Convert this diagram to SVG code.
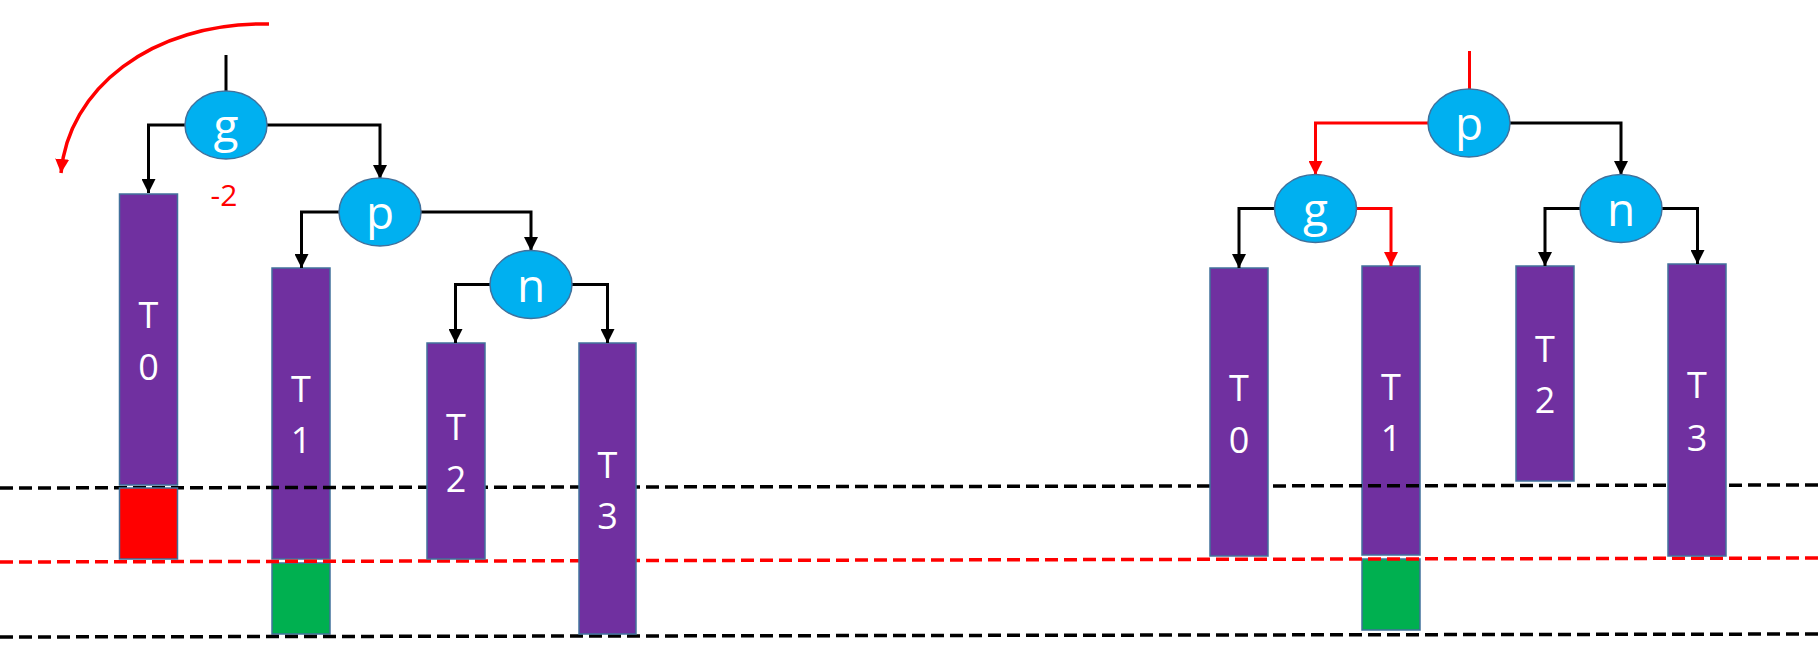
<svg xmlns="http://www.w3.org/2000/svg" width="1818" height="672" viewBox="0 0 1818 672">
<style>
.bg{fill:#ffffff}
.sub{fill:#7030A0;stroke:#41719C;stroke-width:1.5}
.red{fill:#FF0000;stroke:#41719C;stroke-width:1.5}
.grn{fill:#00B050;stroke:#41719C;stroke-width:1.5}
.node{fill:#00B0F0;stroke:#41719C;stroke-width:1.5}
.nl{font-family:"Open Sans","Liberation Sans",sans-serif;font-size:46px;fill:#ffffff;text-anchor:middle}
.tl{font-family:"Open Sans","Liberation Sans",sans-serif;font-size:36px;fill:#ffffff;text-anchor:middle}
.c{fill:none;stroke:#000000;stroke-width:3}
.cr{fill:none;stroke:#FF0000;stroke-width:3}
.arc{fill:none;stroke:#FF0000;stroke-width:3.5}
.dk{fill:none;stroke:#000000;stroke-width:3.5;stroke-dasharray:13 6}
.dr{fill:none;stroke:#FF0000;stroke-width:3.5;stroke-dasharray:13 6}
</style>
<defs>
<marker id="ab" markerUnits="userSpaceOnUse" markerWidth="14" markerHeight="14" viewBox="0 0 14 14" refX="14" refY="7" orient="auto">
<path d="M0,0 L14,7 L0,14 Z" fill="#000000"/>
</marker>
<marker id="ar" markerUnits="userSpaceOnUse" markerWidth="14" markerHeight="14" viewBox="0 0 14 14" refX="14" refY="7" orient="auto">
<path d="M0,0 L14,7 L0,14 Z" fill="#FF0000"/>
</marker>
</defs>
<rect class="bg" x="0" y="0" width="1818" height="672"/>

<g id="left-T1">
<rect class="sub" x="272" y="268" width="58" height="291"/>
<rect class="grn" x="272" y="563" width="58" height="71"/>
<text class="tl" x="301" y="402">T</text>
<text class="tl" x="301" y="453">1</text>
</g>
<g id="right-T1">
<rect class="sub" x="1362" y="266" width="58" height="289"/>
<rect class="grn" x="1362" y="559" width="58" height="71"/>
<text class="tl" x="1391" y="400">T</text>
<text class="tl" x="1391" y="451">1</text>
</g>

<g id="levels">
<line class="dk" x1="0" y1="488" x2="1818" y2="485"/>
<line class="dr" x1="0" y1="562" x2="1818" y2="558"/>
<line class="dk" x1="0" y1="637" x2="1818" y2="634"/>
</g>

<g id="left-T0">
<rect class="sub" x="119.5" y="194" width="58" height="291"/>
<rect class="red" x="119.5" y="488" width="58" height="71"/>
<text class="tl" x="148.5" y="328">T</text>
<text class="tl" x="148.5" y="380">0</text>
</g>
<g id="left-T2">
<rect class="sub" x="427" y="343" width="58" height="216"/>
<text class="tl" x="456" y="440">T</text>
<text class="tl" x="456" y="492">2</text>
</g>
<g id="left-T3">
<rect class="sub" x="579" y="343" width="57" height="291"/>
<text class="tl" x="607.5" y="478">T</text>
<text class="tl" x="607.5" y="529">3</text>
</g>

<g id="right-T0">
<rect class="sub" x="1210" y="268" width="58" height="288"/>
<text class="tl" x="1239" y="401">T</text>
<text class="tl" x="1239" y="453">0</text>
</g>
<g id="right-T2">
<rect class="sub" x="1516" y="266" width="58" height="215"/>
<text class="tl" x="1545" y="362">T</text>
<text class="tl" x="1545" y="413">2</text>
</g>
<g id="right-T3">
<rect class="sub" x="1668" y="264" width="58" height="292"/>
<text class="tl" x="1697" y="398">T</text>
<text class="tl" x="1697" y="451">3</text>
</g>

<g id="connectors">
<path class="c" d="M226,55 V91"/>
<path class="c" d="M185,125 H148.5 V193" marker-end="url(#ab)"/>
<path class="c" d="M267,125 H380 V179" marker-end="url(#ab)"/>
<path class="c" d="M339,212 H301.5 V268" marker-end="url(#ab)"/>
<path class="c" d="M420,212 H531 V251" marker-end="url(#ab)"/>
<path class="c" d="M490,284.5 H455.5 V343" marker-end="url(#ab)"/>
<path class="c" d="M571,284.5 H607.5 V343" marker-end="url(#ab)"/>
<path class="arc" d="M269,24 C150,22 68,90 61,173" marker-end="url(#ar)"/>
<path class="cr" d="M1469.5,51 V89"/>
<path class="cr" d="M1428,123 H1315.5 V175" marker-end="url(#ar)"/>
<path class="c" d="M1510,123 H1621 V175" marker-end="url(#ab)"/>
<path class="c" d="M1274.5,208.5 H1239 V268" marker-end="url(#ab)"/>
<path class="cr" d="M1356.5,208.5 H1391 V266" marker-end="url(#ar)"/>
<path class="c" d="M1580,208.5 H1545 V266" marker-end="url(#ab)"/>
<path class="c" d="M1662,208.5 H1697.5 V264" marker-end="url(#ab)"/>
</g>

<g id="left-g">
<ellipse class="node" cx="226" cy="125" rx="41" ry="34"/>
<text class="nl" x="226" y="142">g</text>
</g>
<text id="balance" x="224" y="206" font-family="'Open Sans','Liberation Sans',sans-serif" font-size="30" fill="#FF0000" text-anchor="middle">-2</text>
<g id="left-p">
<ellipse class="node" cx="380" cy="212" rx="41" ry="34"/>
<text class="nl" x="380" y="229">p</text>
</g>
<g id="left-n">
<ellipse class="node" cx="531" cy="284.5" rx="41" ry="34"/>
<text class="nl" x="531" y="301.5">n</text>
</g>

<g id="right-p">
<ellipse class="node" cx="1469" cy="123" rx="41" ry="34"/>
<text class="nl" x="1469" y="140">p</text>
</g>
<g id="right-g">
<ellipse class="node" cx="1315.5" cy="208.5" rx="41" ry="34"/>
<text class="nl" x="1315.5" y="225.5">g</text>
</g>
<g id="right-n">
<ellipse class="node" cx="1621" cy="208.5" rx="41" ry="34"/>
<text class="nl" x="1621" y="225.5">n</text>
</g>
</svg>
